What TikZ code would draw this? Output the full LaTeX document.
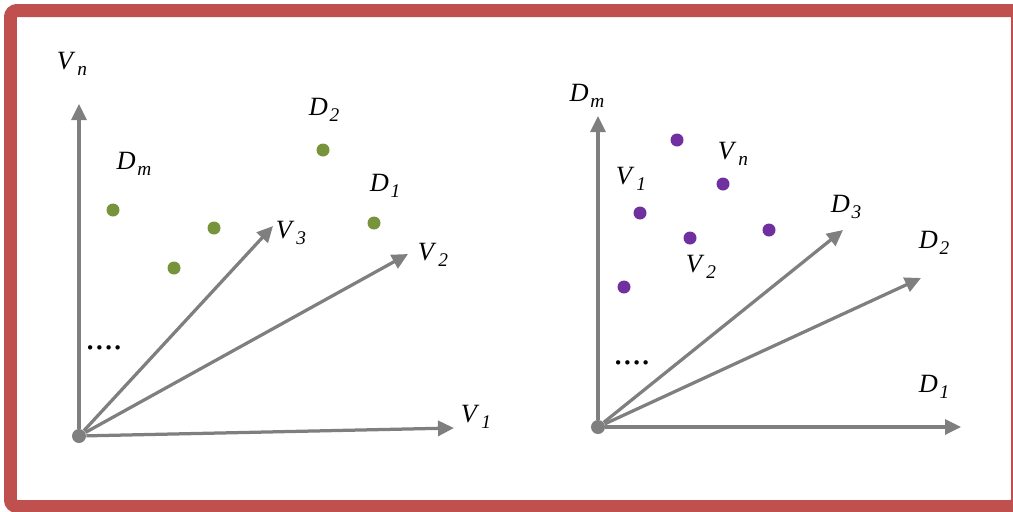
\documentclass[tikz,border=0pt]{standalone}
\usepackage{fontspec}
\setmainfont{Liberation Serif}
\usepackage{xcolor}
\usetikzlibrary{arrows.meta,positioning}

\definecolor{frame}{HTML}{C0504D}
\definecolor{axgray}{HTML}{7F7F7F}
\definecolor{docgreen}{HTML}{77933C}
\definecolor{wordpurple}{HTML}{7030A0}
\newcommand{\sub}[2]{\textit{#1}\kern1pt\raisebox{-0.45ex}{\fontsize{11}{11}\selectfont\itshape #2}}

\begin{document}
\begin{tikzpicture}[
    x=0.02cm, y=-0.02cm,
    axis/.style={-{Triangle[length=0.32cm, width=0.3cm]}, draw=axgray, line width=0.065cm},
    orig/.style={circle, fill=axgray, inner sep=0pt, minimum size=0.28cm},
    gdot/.style={circle, fill=docgreen, inner sep=0pt, minimum size=0.26cm},
    pdot/.style={circle, fill=wordpurple, inner sep=0pt, minimum size=0.26cm},
    lbl/.style={font=\fontsize{15}{18}\selectfont, inner sep=1pt},
    ellip/.style={font=\fontsize{21}{22}\selectfont, inner sep=1pt},
]
\useasboundingbox (0,0) rectangle (1013,511);
\draw[frame, line width=0.26cm, rounded corners=0.13cm] (10.5,10.5) rectangle (1017.5,506.5);

% left: documents in the space of words
\node[orig] (o1) at (79,436) {};
\coordinate (vn) at (79,104);
\coordinate (v1) at (454,428);
\coordinate (v2) at (408,254);
\coordinate (v3) at (273,226);
\draw[axis] (o1) -- (vn);
\draw[axis] (o1) -- (v1);
\draw[axis] (o1) -- (v2);
\draw[axis] (o1) -- (v3);
\node[lbl] (vnl) at (72,64) {\sub{V}{n}};
\node[lbl] (v1l) at (476,417) {\sub{V}{1}};
\node[lbl] (v2l) at (433,255) {\sub{V}{2}};
\node[lbl] (v3l) at (291,233) {\sub{V}{3}};
\node[ellip] (dots1) at (104,348) {....};

\node[gdot] (g1) at (113,210) {};
\node[gdot] (g2) at (174,268) {};
\node[gdot] (g3) at (214,228) {};
\node[gdot] (g4) at (323,150) {};
\node[gdot] (g5) at (374,223) {};
\node[lbl] (dml) at (134,164) {\sub{D}{m}};
\node[lbl] (d2l) at (324,110) {\sub{D}{2}};
\node[lbl] (d1l) at (385,186) {\sub{D}{1}};

% right: words in the space of documents
\node[orig] (o2) at (598,427) {};
\coordinate (dm) at (598,116);
\coordinate (d1) at (961,427);
\coordinate (d2) at (921,278);
\coordinate (d3) at (843,230);
\draw[axis] (o2) -- (dm);
\draw[axis] (o2) -- (d1);
\draw[axis] (o2) -- (d2);
\draw[axis] (o2) -- (d3);
\node[lbl] (dmr) at (587,96) {\sub{D}{m}};
\node[lbl] (d1r) at (934,387) {\sub{D}{1}};
\node[lbl] (d2r) at (934,243) {\sub{D}{2}};
\node[lbl] (d3r) at (846,207) {\sub{D}{3}};
\node[ellip] (dots2) at (632,363) {....};

\node[pdot] (p1) at (677,140) {};
\node[pdot] (p2) at (723,184) {};
\node[pdot] (p3) at (640,213) {};
\node[pdot] (p4) at (690,238) {};
\node[pdot] (p5) at (769,230) {};
\node[pdot] (p6) at (624,287) {};
\node[lbl] (v1r) at (631,179) {\sub{V}{1}};
\node[lbl] (vnr) at (733,154) {\sub{V}{n}};
\node[lbl] (v2r) at (701,267) {\sub{V}{2}};
\end{tikzpicture}
\end{document}
